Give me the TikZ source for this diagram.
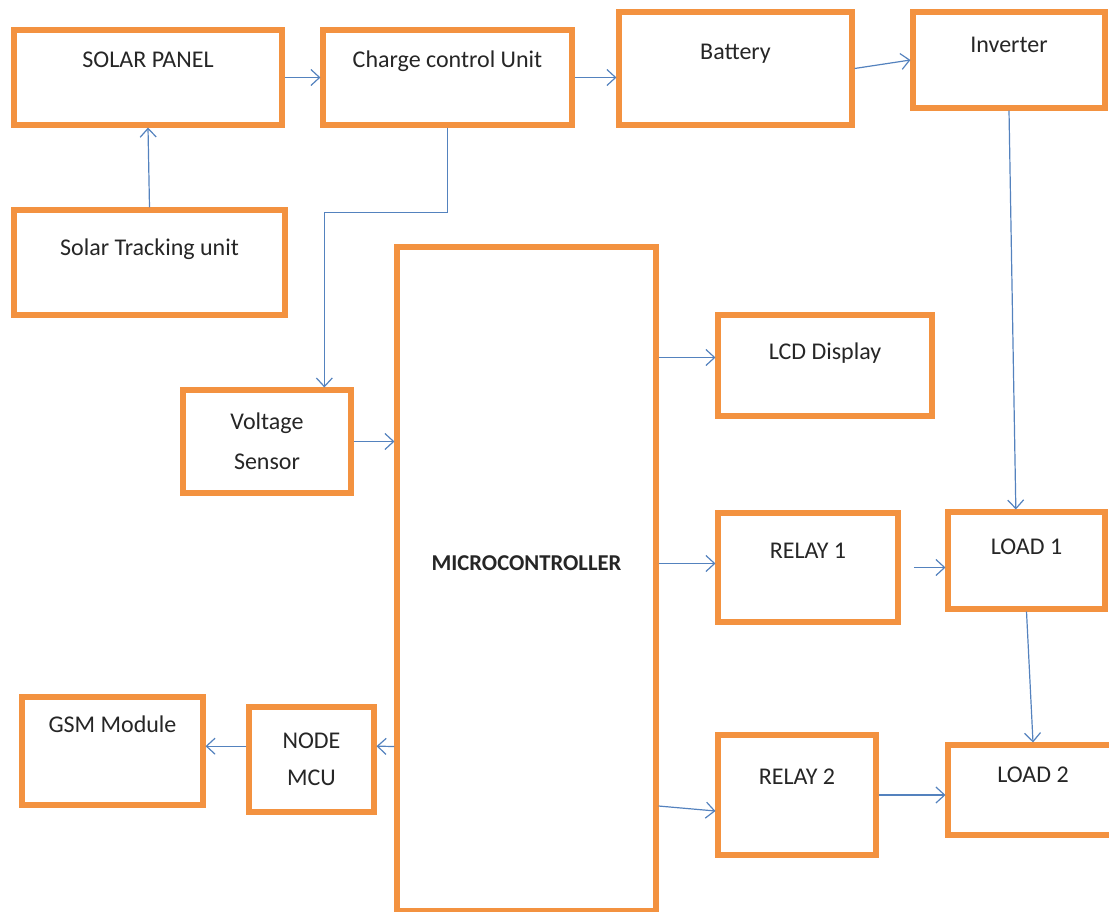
\documentclass[tikz,border=0pt]{standalone}
\usepackage{fontspec}
\setmainfont{Carlito}
\usetikzlibrary{arrows.meta}
\definecolor{boxorange}{RGB}{243,146,64}
\definecolor{wireblue}{RGB}{84,130,190}
\tikzset{
	blok/.style={draw=boxorange, line width=3.8pt, fill=white, rectangle, inner sep=2pt, align=center, text=black!85, font=\fontsize{18}{30}\selectfont},
	lift/.style={text height=12pt, text depth=#1pt},
	wh/.style 2 args={minimum width=#1*0.75pt, minimum height=#2*0.75pt},
	wire/.style={draw=wireblue, line width=0.9pt, -{Straight Barb[length=6.5pt,width=12pt]}}
}
\begin{document}
\begin{tikzpicture}[x=0.75pt, y=-0.75pt]
	\useasboundingbox (0,0) rectangle (1109,911);
	% top row
	\draw (148,77.5) node[blok, wh={268}{95}, lift=27] (sp) {SOLAR PANEL};
	\draw (447.5,77.5) node[blok, wh={249}{95}, lift=27] (cc) {Charge control Unit};
	\draw (735.5,68.5) node[blok, wh={233}{113}, lift=26] (bat) {Battery};
	\draw (1009,60) node[blok, wh={192}{96}, lift=23.5] (inv) {Inverter};
	\draw (149.5,262.5) node[blok, wh={271}{105}, lift=23] (st) {Solar Tracking unit};
	% controller and its blocks
	\draw (526.5,579) node[blok, wh={259}{664}, lift=25, font=\fontsize{17}{30}\selectfont\bfseries] (mc) {MICROCONTROLLER};
	\draw (267,441.5) node[blok, wh={168}{103}] (vs) {Voltage\\Sensor};
	\draw (825,365.5) node[blok, wh={214}{101}, lift=21] (lcd) {LCD Display};
	\draw (808,567.5) node[blok, wh={180}{109}, lift=26] (r1) {RELAY 1};
	\draw (1026.5,560.5) node[blok, wh={157}{97}, lift=21] (l1) {LOAD 1};
	\draw (797,795) node[blok, wh={158}{120}, lift=28] (r2) {RELAY 2};
	\draw (1033,790) node[blok, wh={170}{90}, lift=23.5] (l2) {LOAD 2};
	\draw (311.5,759.5) node[blok, wh={125}{105}, font=\fontsize{18}{28}\selectfont] (nm) {NODE\\MCU};
	\draw (112.5,751) node[blok, wh={181}{108}, lift=40] (gsm) {GSM Module};
	% connectors
	\draw[wire] (sp.east) -- (cc.west);
	\draw[wire] (cc.east) -- (cc.east -| bat.west);
	\draw[wire] (bat.east) -- (inv.west);
	\draw[wire] (st.north) -- (sp.south);
	\draw[wire] (cc.south) -- ++(0,85) -| ([xshift=43pt]vs.north);
	\draw[wire] (inv.south) -- ([xshift=-8pt]l1.north);
	\draw[wire] (vs.east) -- (vs.east -| mc.west);
	\draw[wire] (lcd.west -| mc.east) ++(0,-8) -- ([yshift=6pt]lcd.west);
	\draw[wire] (r1.west -| mc.east) ++(0,-4) -- ([yshift=3pt]r1.west);
	\draw[wire, shorten <=10pt] (r1.east) -- (r1.east -| l1.west);
	\draw[wire] (l1.south) -- (l2.north);
	\draw[wire] (r2.west -| mc.east) ++(0,11) -- ([yshift=-12pt]r2.west);
	\draw[wire] (r2.east) -- (r2.east -| l2.west);
	\draw[wire] (nm.east -| mc.west) ++(0,-13) -- ([yshift=10pt]nm.east);
	\draw[wire] ([yshift=10pt]nm.west) -- ([yshift=10pt]nm.west -| gsm.east);
\end{tikzpicture}
\end{document}
